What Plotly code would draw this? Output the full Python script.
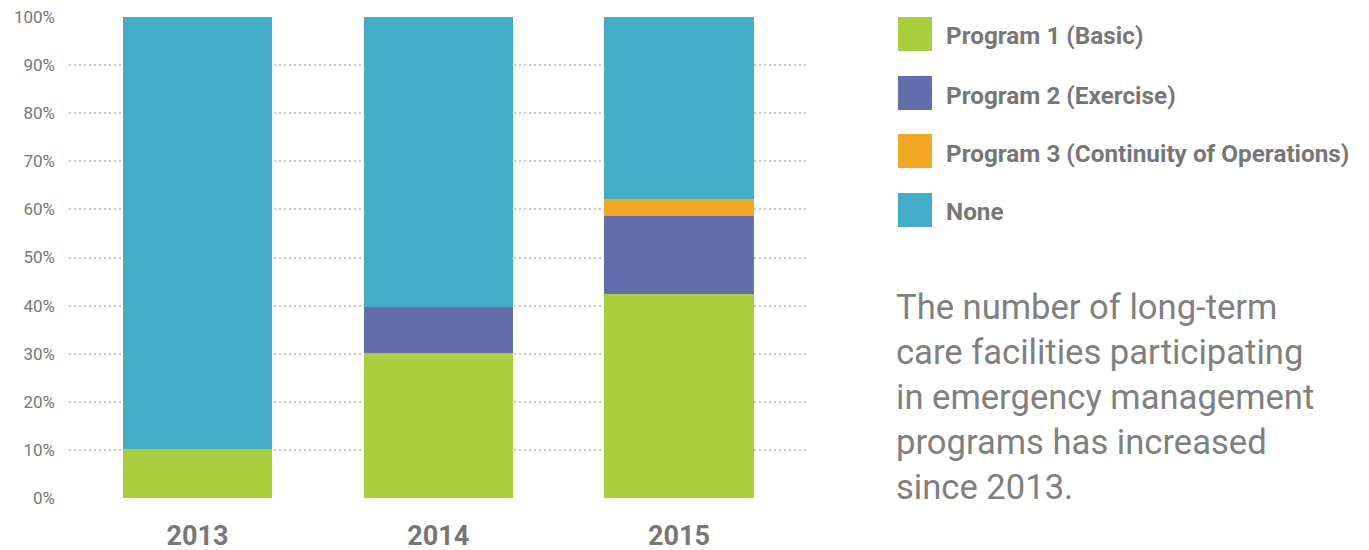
import plotly.graph_objects as go

years = ["2013", "2014", "2015"]
series_names = ["Program 1 (Basic)", "Program 2 (Exercise)", "Program 3 (Continuity of Operations)", "None"]
program1 = [10.1, 30.1, 42.4]
program2 = [0.0, 9.6, 16.2]
program3 = [0.0, 0.0, 3.5]
none_ = [89.9, 60.3, 37.9]
colors = ["#AACF3C", "#646EAC", "#F2A823", "#43ADCA"]
y_ticks = [0, 10, 20, 30, 40, 50, 60, 70, 80, 90, 100]
y_tick_labels = [f"{v}%" for v in y_ticks]
description = ["The number of long-term", "care facilities participating",
               "in emergency management", "programs has increased", "since 2013."]

OFF = 8  # page body margin in the browser
W, H = 1369, 550
# target screen positions of the plot area
SL, SR, ST, SB = 69, 808, 17, 498
ML, MR, MT, MB = SL - OFF, W - (SR - OFF), ST - OFF, H - (SB - OFF)
PW, PH = W - ML - MR, H - MT - MB

def px_x(x):
    return (x - OFF - ML) / PW

def px_y(y):
    return (H - MB - (y - OFF)) / PH

fig = go.Figure()
for name, vals, col in zip(series_names, [program1, program2, program3, none_], colors):
    fig.add_trace(go.Bar(x=years, y=vals, name=name, marker=dict(color=col, line=dict(width=0)),
                         width=0.62, showlegend=False))

grid_col = "#c8c8c8"
fig.update_layout(
    barmode="stack",
    width=W, height=H,
    margin=dict(l=ML, r=MR, t=MT, b=MB),
    paper_bgcolor="white", plot_bgcolor="white",
    font=dict(family="Roboto, sans-serif", color="#7a7a7a"),
    xaxis=dict(type="category", range=[-0.534, 2.536], showgrid=False, zeroline=False,
               showline=False, ticks="", tickfont=dict(size=27, color="#777777", weight="bold"),
               ticklabelstandoff=19, automargin=False),
    yaxis=dict(range=[0, 100], tickvals=y_ticks, ticktext=y_tick_labels, showgrid=True,
               gridcolor=grid_col, griddash="2px,3px", gridwidth=2, zeroline=False, showline=False,
               ticks="", tickfont=dict(size=17, color="#777777"), ticklabelstandoff=13,
               ticklabeloverflow="allow", automargin=False),
)

legend_rows = [34, 93, 151, 210]
for name, col, cy in zip(series_names, colors, legend_rows):
    fig.add_shape(type="rect", xref="paper", yref="paper",
                  x0=px_x(898), x1=px_x(932), y0=px_y(cy - 17), y1=px_y(cy + 17),
                  fillcolor=col, line=dict(width=0), layer="above")
    fig.add_annotation(xref="paper", yref="paper", x=px_x(944), y=px_y(cy + 2),
                       xanchor="left", yanchor="middle", showarrow=False, text=f"<b>{name}</b>",
                       font=dict(size=24.3, color="#777777"))

desc_rows = [307, 352, 397, 442, 487]
for line, cy in zip(description, desc_rows):
    fig.add_annotation(xref="paper", yref="paper", x=px_x(894), y=px_y(cy),
                       xanchor="left", yanchor="middle", showarrow=False, text=line,
                       font=dict(size=34.6, color="#808080"))

fig.write_html("out.html")
